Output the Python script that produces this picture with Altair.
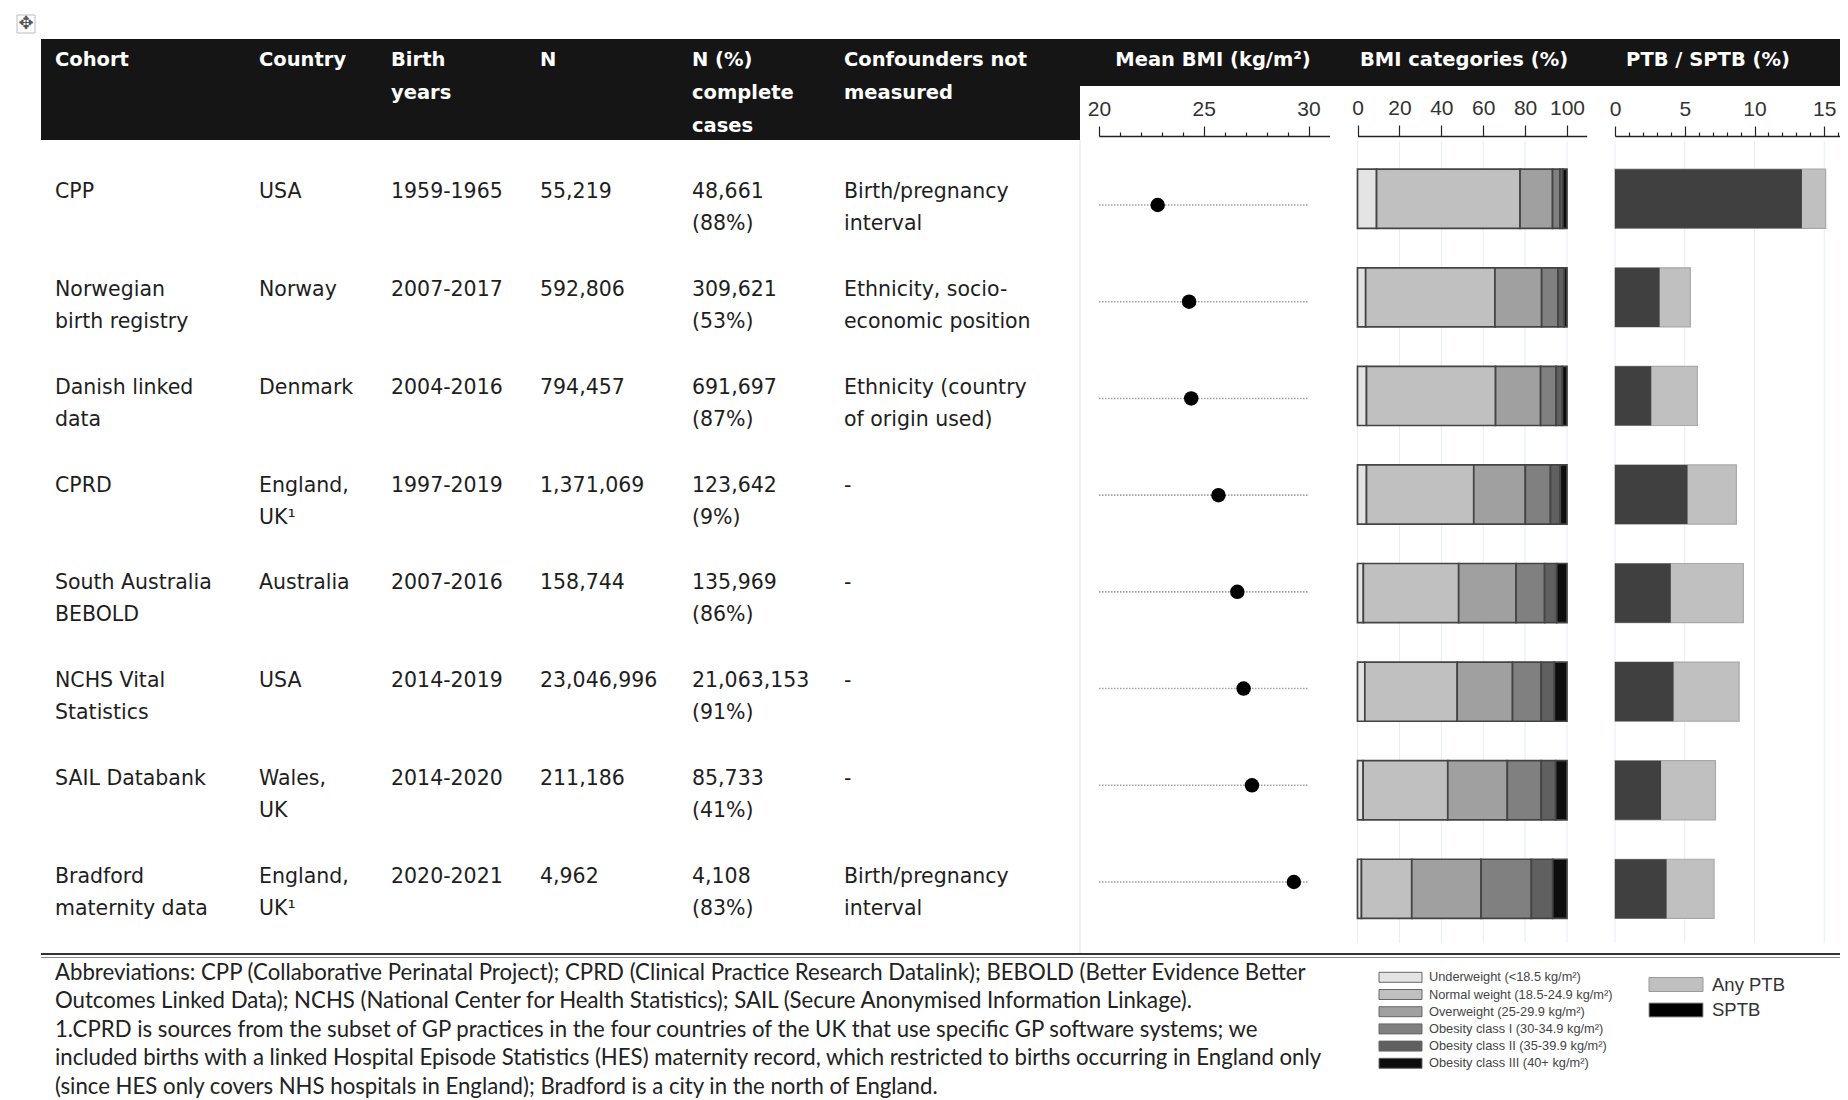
import altair as alt
import pandas as pd

# ---------------- data ----------------
cohort_names = ["CPP", "Norwegian birth registry", "Danish linked data", "CPRD",
                "South Australia BEBOLD", "NCHS Vital Statistics", "SAIL Databank",
                "Bradford maternity data"]
cohort_labels = ["CPP", "Norwegian\nbirth registry", "Danish linked\ndata", "CPRD",
                 "South Australia\nBEBOLD", "NCHS Vital\nStatistics", "SAIL Databank",
                 "Bradford\nmaternity data"]
countries = ["USA", "Norway", "Denmark", "England,\nUK¹", "Australia", "USA",
             "Wales,\nUK", "England,\nUK¹"]
birth_years = ["1959-1965", "2007-2017", "2004-2016", "1997-2019", "2007-2016",
               "2014-2019", "2014-2020", "2020-2021"]
n_total = ["55,219", "592,806", "794,457", "1,371,069", "158,744", "23,046,996",
           "211,186", "4,962"]
n_complete = ["48,661\n(88%)", "309,621\n(53%)", "691,697\n(87%)", "123,642\n(9%)",
              "135,969\n(86%)", "21,063,153\n(91%)", "85,733\n(41%)", "4,108\n(83%)"]
confounders = ["Birth/pregnancy\ninterval", "Ethnicity, socio-\neconomic position",
               "Ethnicity (country\nof origin used)", "-", "-", "-", "-",
               "Birth/pregnancy\ninterval"]

header_labels = ["Cohort", "Country", "Birth\nyears", "N", "N (%)\ncomplete\ncases",
                 "Confounders not\nmeasured"]
panel_titles = ["Mean BMI (kg/m²)", "BMI categories (%)", "PTB / SPTB (%)"]

mean_bmi = [22.8, 24.3, 24.4, 25.7, 26.6, 26.9, 27.3, 29.3]

bmi_categories = ["Underweight", "Normal weight", "Overweight",
                  "Obesity class I", "Obesity class II", "Obesity class III"]
bmi_legend_labels = ["Underweight (<18.5 kg/m²)", "Normal weight (18.5-24.9 kg/m²)",
                     "Overweight (25-29.9 kg/m²)", "Obesity class I (30-34.9 kg/m²)",
                     "Obesity class II (35-39.9 kg/m²)", "Obesity class III (40+ kg/m²)"]
underweight = [9.1, 3.9, 4.3, 4.3, 2.8, 3.5, 2.7, 1.9]
normal_weight = [68.5, 61.7, 61.6, 51.2, 45.5, 44.1, 40.4, 24.0]
overweight = [15.5, 22.3, 21.5, 24.6, 27.4, 26.4, 28.4, 33.1]
obesity_1 = [3.5, 7.8, 7.4, 12.0, 13.6, 13.7, 16.2, 24.0]
obesity_2 = [1.4, 3.0, 3.0, 4.7, 5.8, 6.3, 6.9, 10.2]
obesity_3 = [2.0, 1.3, 2.2, 3.2, 4.9, 6.0, 5.4, 6.8]

any_ptb = [15.1, 5.4, 5.9, 8.7, 9.2, 8.9, 7.2, 7.1]
sptb = [13.4, 3.2, 2.6, 5.2, 4.0, 4.2, 3.3, 3.7]
ptb_legend = ["Any PTB", "SPTB"]

bmi_ticks = [20, 25, 30]
bmi_minor = [21, 22, 23, 24, 26, 27, 28, 29]
cat_ticks = [0, 20, 40, 60, 80, 100]
ptb_ticks = [0, 5, 10, 15]
ptb_minor = [1, 2, 3, 4, 6, 7, 8, 9, 11, 12, 13, 14, 16]

footnote = ("Abbreviations: CPP (Collaborative Perinatal Project); CPRD (Clinical Practice Research Datalink); BEBOLD (Better Evidence Better\n"
            "Outcomes Linked Data); NCHS (National Center for Health Statistics); SAIL (Secure Anonymised Information Linkage).\n"
            "1.CPRD is sources from the subset of GP practices in the four countries of the UK that use specific GP software systems; we\n"
            "included births with a linked Hospital Episode Statistics (HES) maternity record, which restricted to births occurring in England only\n"
            "(since HES only covers NHS hospitals in England); Bradford is a city in the north of England.")

# ---------------- styles ----------------
BODY_FONT = "DejaVu Sans"
AX_FONT = "Liberation Sans"
bmi_colors = ["#e4e4e4", "#c0c0c0", "#a0a0a0", "#808080", "#606060", "#0d0d0d"]

one = pd.DataFrame({"k": [0]})

# scales
y_text = alt.Scale(type="point", domain=cohort_names, range=[190, 875], padding=0)
y_bar = alt.Scale(type="band", domain=cohort_names, range=[141.5, 930.1],
                  paddingInner=0.4, paddingOuter=0.2)
y_dot = alt.Scale(type="point", domain=cohort_names, range=[197, 874], padding=0)

x_bmi = alt.Scale(domain=[20, 31], range=[1091, 1321.5], nice=False, zero=False)
x_cat = alt.Scale(domain=[0, 109.4], range=[1349.5, 1578.7], nice=False, zero=False)
x_ptb = alt.Scale(domain=[0, 16.1], range=[1607, 1831.6], nice=False, zero=False)
col_bmi = alt.Scale(domain=bmi_categories, range=bmi_colors)


def top_axis(values, tick, labels=True, domain=True):
    kw = dict(orient="top", offset=-128, values=values, title=None, grid=False,
              tickSize=tick, tickColor="#222", tickWidth=1.2,
              domain=domain, domainColor="#222", domainWidth=1.6,
              labels=labels)
    if labels:
        kw.update(labelFont=AX_FONT, labelFontSize=21, labelColor="#333",
                  labelPadding=7, labelFlush=False, labelOverlap=False, labelBound=False)
    return alt.Axis(**kw)


layers = []

# ---- header black bands ----
layers.append(alt.Chart(one).mark_rect(color="#151515").encode(
    x=alt.value(33), x2=alt.value(1072), y=alt.value(31), y2=alt.value(132)))
layers.append(alt.Chart(one).mark_rect(color="#151515").encode(
    x=alt.value(1072), x2=alt.value(1832), y=alt.value(31), y2=alt.value(78)))

# move handle glyph
layers.append(alt.Chart(one).mark_rect(fill="white", stroke="#bbb", strokeWidth=1).encode(
    x=alt.value(9), x2=alt.value(27), y=alt.value(7), y2=alt.value(25)))
layers.append(alt.Chart(one).mark_text(text="✥", font=BODY_FONT, fontSize=18,
                                       color="#555", align="center", baseline="middle").encode(
    x=alt.value(18), y=alt.value(16)))

# header labels
col_x = [47, 251, 383, 532, 684, 836]
for lab, xp in zip(header_labels, col_x):
    layers.append(alt.Chart(pd.DataFrame({"t": [lab]})).mark_text(
        font=BODY_FONT, fontWeight="bold", fontSize=19.5, color="white",
        align="left", baseline="alphabetic", lineBreak="\n", lineHeight=33).encode(
        x=alt.value(xp), y=alt.value(58), text="t:N"))
for lab, xp in zip(panel_titles, [1205, 1456, 1700]):
    layers.append(alt.Chart(pd.DataFrame({"t": [lab]})).mark_text(
        font=BODY_FONT, fontWeight="bold", fontSize=19.5, color="white",
        align="center", baseline="alphabetic").encode(
        x=alt.value(xp), y=alt.value(58), text="t:N"))

# ---- table body text ----
columns = [cohort_labels, countries, birth_years, n_total, n_complete, confounders]
for vals, xp in zip(columns, col_x):
    df = pd.DataFrame({"row": cohort_names, "t": vals})
    layers.append(alt.Chart(df).mark_text(
        font=BODY_FONT, fontSize=20.5, color="#1e1e1e", align="left",
        baseline="alphabetic", lineBreak="\n", lineHeight=32).encode(
        x=alt.value(xp), y=alt.Y("row:N", scale=y_text, axis=None), text="t:N"))

# faint separator at left of plots
layers.append(alt.Chart(one).mark_rule(color="#e2e2e2", strokeWidth=1).encode(
    x=alt.value(1072), y=alt.value(132), y2=alt.value(946)))

# ---- gridlines ----
layers.append(alt.Chart(pd.DataFrame({"v": cat_ticks})).mark_rule(
    color="#e6eef1", strokeWidth=1).encode(
    x=alt.X("v:Q", scale=x_cat, axis=None), y=alt.value(133), y2=alt.value(935)))
layers.append(alt.Chart(pd.DataFrame({"v": ptb_ticks})).mark_rule(
    color="#e6eef1", strokeWidth=1).encode(
    x=alt.X("v:Q", scale=x_ptb, axis=None), y=alt.value(133), y2=alt.value(935)))

# ---- Mean BMI ----
df_bmi = pd.DataFrame({"row": cohort_names, "bmi": mean_bmi,
                       "lo": [bmi_ticks[0]] * 8, "hi": [bmi_ticks[-1]] * 8})
layers.append(alt.Chart(df_bmi).mark_rule(color="#a0a0a0", strokeWidth=1.6,
                                           strokeDash=[1.5, 1.5]).encode(
    x=alt.X("lo:Q", scale=x_bmi, axis=top_axis(bmi_ticks, 10)),
    x2="hi:Q",
    y=alt.Y("row:N", scale=y_dot, axis=None)))
layers.append(alt.Chart(df_bmi).mark_circle(color="black", opacity=1, size=210).encode(
    x=alt.X("bmi:Q", scale=x_bmi, axis=top_axis(bmi_minor, 4, labels=False, domain=False)),
    y=alt.Y("row:N", scale=y_dot, axis=None)))

# ---- BMI categories stacked bars ----
recs = []
parts = [underweight, normal_weight, overweight, obesity_1, obesity_2, obesity_3]
for i, name in enumerate(cohort_names):
    start = 0.0
    for cat, arr in zip(bmi_categories, parts):
        recs.append({"row": name, "cat": cat, "start": start, "end": start + arr[i]})
        start += arr[i]
df_cat = pd.DataFrame(recs)
layers.append(alt.Chart(df_cat).mark_bar(stroke="#444", strokeWidth=1.7).encode(
    x=alt.X("start:Q", scale=x_cat, axis=top_axis(cat_ticks, 11)),
    x2="end:Q",
    y=alt.Y("row:N", scale=y_bar, axis=None),
    color=alt.Color("cat:N", scale=col_bmi, legend=None)))

# ---- PTB / SPTB bars ----
df_ptb = pd.DataFrame({"row": cohort_names, "ptb": any_ptb, "sptb": sptb})
layers.append(alt.Chart(df_ptb).mark_bar(color="#c0c0c0", stroke="#a8a8a8",
                                          strokeWidth=1.2).encode(
    x=alt.X("ptb:Q", scale=x_ptb, axis=top_axis(ptb_ticks, 10)),
    y=alt.Y("row:N", scale=y_bar, axis=None)))
layers.append(alt.Chart(df_ptb).mark_bar(color="#404040").encode(
    x=alt.X("sptb:Q", scale=x_ptb, axis=top_axis(ptb_minor, 4, labels=False, domain=False)),
    y=alt.Y("row:N", scale=y_bar, axis=None)))

# ---- bottom double rule ----
layers.append(alt.Chart(one).mark_rule(color="#333", strokeWidth=2.2).encode(
    x=alt.value(33), x2=alt.value(1832), y=alt.value(946)))
layers.append(alt.Chart(one).mark_rule(color="#8a8a8a", strokeWidth=1).encode(
    x=alt.value(33), x2=alt.value(1832), y=alt.value(949.5)))

# ---- footnote ----
layers.append(alt.Chart(pd.DataFrame({"t": [footnote]})).mark_text(
    font="Lato", fontSize=22.2, color="#222", align="left", baseline="alphabetic",
    lineBreak="\n", lineHeight=28.4).encode(
    x=alt.value(47), y=alt.value(972), text="t:N"))

# ---- BMI legend ----
y_leg = alt.Scale(type="band", domain=bmi_categories, range=[960.7, 1063.9],
                  paddingInner=0.42, paddingOuter=0.21)
df_leg = pd.DataFrame({"cat": bmi_categories, "label": bmi_legend_labels})
layers.append(alt.Chart(df_leg).mark_rect(stroke="#666", strokeWidth=1).encode(
    x=alt.value(1371), x2=alt.value(1414),
    y=alt.Y("cat:N", scale=y_leg, axis=None),
    color=alt.Color("cat:N", scale=col_bmi, legend=None)))
layers.append(alt.Chart(df_leg).mark_text(font=AX_FONT, fontSize=12.8, color="#444",
                                          align="left", baseline="middle").encode(
    x=alt.value(1421), y=alt.Y("cat:N", scale=y_leg, axis=None), text="label:N"))

# ---- PTB legend ----
y_leg2 = alt.Scale(type="band", domain=ptb_legend, range=[963.75, 1014.75],
                   paddingInner=0.45, paddingOuter=0.225)
df_leg2 = pd.DataFrame({"k": ptb_legend})
layers.append(alt.Chart(df_leg2).mark_rect(stroke="#999", strokeWidth=1).encode(
    x=alt.value(1641), x2=alt.value(1695),
    y=alt.Y("k:N", scale=y_leg2, axis=None),
    color=alt.Color("k:N", scale=alt.Scale(domain=ptb_legend, range=["#c0c0c0", "#000000"]),
                    legend=None)))
layers.append(alt.Chart(df_leg2).mark_text(font=AX_FONT, fontSize=18.5, color="#333",
                                           align="left", baseline="middle").encode(
    x=alt.value(1704), y=alt.Y("k:N", scale=y_leg2, axis=None), text="k:N"))

chart = alt.layer(*layers).resolve_scale(
    x="independent", y="independent", color="independent"
).properties(
    width=1832, height=1092, padding=0,
    autosize=alt.AutoSizeParams(type="none"),
    background="white",
).configure_view(stroke=None)

chart.save("out.html", embed_options={"renderer": "svg", "actions": False})
